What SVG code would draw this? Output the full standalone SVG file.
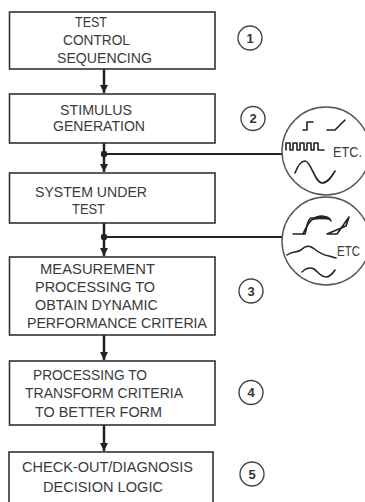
<svg xmlns="http://www.w3.org/2000/svg" width="365" height="502" viewBox="0 0 365 502">
<style>
.box{fill:#fff;stroke:#333;stroke-width:1.6}
.t{font-family:"Liberation Sans","DejaVu Sans",sans-serif;font-size:15px;fill:#3a3a3a}
.num{font-family:"Liberation Sans","DejaVu Sans",sans-serif;font-size:13px;font-weight:bold;fill:#333;text-anchor:middle}
.nc{fill:none;stroke:#444;stroke-width:1.4}
.ln{fill:none;stroke:#222;stroke-width:2.5}
.hl{fill:none;stroke:#222;stroke-width:2}
.big{fill:#fff;stroke:#555;stroke-width:1.4}
.wv{fill:none;stroke:#222;stroke-width:1.6;stroke-linecap:round;stroke-linejoin:round}
</style>
<defs>
<marker id="ah" viewBox="0 0 10 10" refX="10" refY="5" markerWidth="3.4" markerHeight="3.4" orient="auto" markerUnits="strokeWidth">
<path d="M0,0 L10,5 L0,10 Z" fill="#222"/>
</marker>
</defs>

<g id="connectors">
<line class="ln" x1="104" y1="69" x2="104" y2="93" marker-end="url(#ah)"/>
<line class="ln" x1="104" y1="143" x2="104" y2="172" marker-end="url(#ah)"/>
<circle cx="104" cy="154" r="3.2" fill="#222"/>
<line class="hl" x1="104" y1="154" x2="282" y2="154"/>
<line class="ln" x1="104" y1="223" x2="104" y2="256" marker-end="url(#ah)"/>
<circle cx="104" cy="237" r="3.2" fill="#222"/>
<line class="hl" x1="104" y1="237" x2="283" y2="237"/>
<line class="ln" x1="104" y1="335" x2="104" y2="360" marker-end="url(#ah)"/>
<line class="ln" x1="104" y1="425" x2="104" y2="451" marker-end="url(#ah)"/>
</g>

<g id="node1">
<rect class="box" x="9.5" y="12" width="205.5" height="57"/>
<text class="t" x="75" y="27" textLength="32" lengthAdjust="spacingAndGlyphs">TEST</text>
<text class="t" x="63" y="44.5" textLength="67" lengthAdjust="spacingAndGlyphs">CONTROL</text>
<text class="t" x="57" y="62.5" textLength="95" lengthAdjust="spacingAndGlyphs">SEQUENCING</text>
</g>
<g id="node2">
<rect class="box" x="9.5" y="94" width="205.5" height="49"/>
<text class="t" x="60" y="115" textLength="72" lengthAdjust="spacingAndGlyphs">STIMULUS</text>
<text class="t" x="53" y="130.5" textLength="92" lengthAdjust="spacingAndGlyphs">GENERATION</text>
</g>
<g id="node3">
<rect class="box" x="9.5" y="173" width="205.5" height="50"/>
<text class="t" x="35" y="197" textLength="112" lengthAdjust="spacingAndGlyphs">SYSTEM UNDER</text>
<text class="t" x="72" y="214" textLength="33" lengthAdjust="spacingAndGlyphs">TEST</text>
</g>
<g id="node4">
<rect class="box" x="9.5" y="257" width="205.5" height="78"/>
<text class="t" x="40" y="274" textLength="115" lengthAdjust="spacingAndGlyphs">MEASUREMENT</text>
<text class="t" x="35" y="292" textLength="120" lengthAdjust="spacingAndGlyphs">PROCESSING TO</text>
<text class="t" x="35" y="310" textLength="123" lengthAdjust="spacingAndGlyphs">OBTAIN DYNAMIC</text>
<text class="t" x="27" y="328" textLength="180" lengthAdjust="spacingAndGlyphs">PERFORMANCE CRITERIA</text>
</g>
<g id="node5">
<rect class="box" x="9.5" y="361" width="205.5" height="64"/>
<text class="t" x="33" y="380" textLength="114" lengthAdjust="spacingAndGlyphs">PROCESSING TO</text>
<text class="t" x="25" y="398" textLength="158" lengthAdjust="spacingAndGlyphs">TRANSFORM CRITERIA</text>
<text class="t" x="35" y="417" textLength="127" lengthAdjust="spacingAndGlyphs">TO BETTER FORM</text>
</g>
<g id="node6">
<rect class="box" x="9" y="452" width="204" height="60"/>
<text class="t" x="22" y="472" textLength="171" lengthAdjust="spacingAndGlyphs">CHECK-OUT/DIAGNOSIS</text>
<text class="t" x="43" y="492" textLength="120" lengthAdjust="spacingAndGlyphs">DECISION LOGIC</text>
</g>

<g id="label1"><circle class="nc" cx="250" cy="38" r="12"/><text class="num" x="250" y="42.5">1</text></g>
<g id="label2"><circle class="nc" cx="253" cy="118.5" r="12"/><text class="num" x="253" y="123">2</text></g>
<g id="label3"><circle class="nc" cx="251" cy="291" r="12"/><text class="num" x="251" y="295.5">3</text></g>
<g id="label4"><circle class="nc" cx="251" cy="392.5" r="12"/><text class="num" x="251" y="397">4</text></g>
<g id="label5"><circle class="nc" cx="252" cy="474" r="12"/><text class="num" x="252" y="478.5">5</text></g>

<g id="stimulus-signals">
<circle class="big" cx="326" cy="151" r="44"/>
<path class="wv" d="M303,130 H307 V122 H313"/>
<path class="wv" d="M327,130 H335 L345,120"/>
<path class="wv" d="M286,150 V143 H290 V150 H293 V143 H297 V150 H300 V143 H304 V150 H307 V143 H311 V150 H314 V143 H318 V150 H324"/>
<text class="t" x="333" y="157" textLength="29" lengthAdjust="spacingAndGlyphs">ETC.</text>
<path class="wv" d="M295,173 C298,165 302,161 305,161 C311,161 315,183 322,183 C328,183 332,176 335,171"/>
</g>

<g id="response-signals">
<circle class="big" cx="326" cy="241" r="44"/>
<path class="wv" d="M293,234 H305 C307,228 307,220 311,218 H320 C325,216 329,217 331,221"/>
<path class="wv" d="M303,234 C306,228 308,222 313,219" stroke-width="1.2"/>
<path d="M313,218 C319,214 326,214 331,220 C325,219 318,219 313,220 Z" fill="#222"/>
<path class="wv" d="M327,234 H337 L349,217 L346,226 Z" fill="#222"/>
<path class="wv" d="M287,255 C292,251 297,253 301,250 C305,246 309,245 313,248 C318,252 322,255 329,256 L336,258"/>
<text class="t" x="337" y="255.5" textLength="23" lengthAdjust="spacingAndGlyphs">ETC</text>
<path class="wv" d="M302,272 C306,268 310,267 314,269 C318,272 321,277 326,277 C330,277 333,273 335,270"/>
</g>
</svg>
